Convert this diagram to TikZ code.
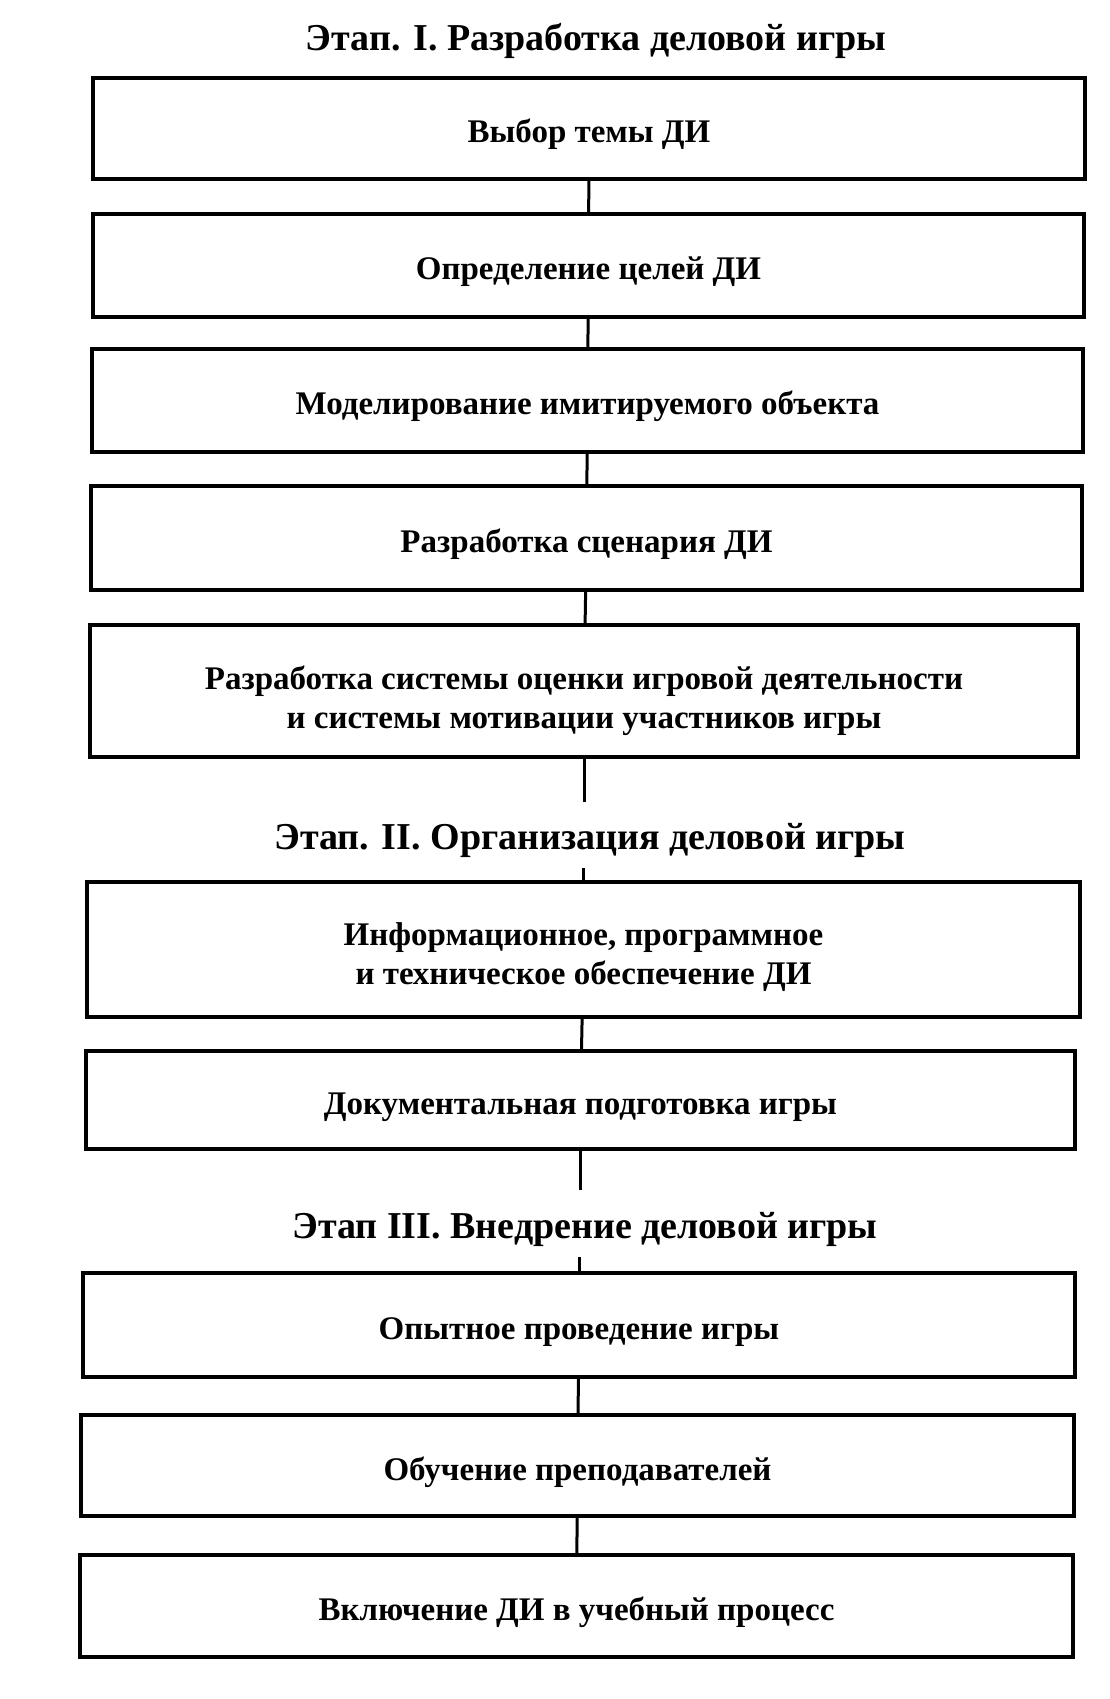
\documentclass[tikz,border=0pt]{standalone}
\usepackage{fontspec}
\setmainfont{Liberation Serif}
\newcommand{\topstrut}[1]{\rule{0pt}{#1}}
\begin{document}
\begin{tikzpicture}[x=1pt,y=-1pt,
  box/.style={draw=black, line width=4pt, fill=white, align=center, inner sep=0pt,
     font=\fontsize{33}{39}\selectfont\bfseries},
  stage/.style={font=\fontsize{38}{42}\selectfont\bfseries, inner sep=0pt},
  conn/.style={draw=black, line width=3pt}]
\useasboundingbox[fill=white] (0,0) rectangle (1110,1699);
\node[stage] (t1) at (596,41) {Этап. I. Разработка деловой игры};
\node[box, minimum width=992pt, minimum height=101pt] (b1) at (589,128.5) {\topstrut{36pt}Выбор темы ДИ};
\node[box, minimum width=991pt, minimum height=103pt] (b2) at (588.5,265.5) {\topstrut{36pt}Определение целей ДИ};
\node[box, minimum width=991pt, minimum height=103pt] (b3) at (587.5,400.5) {\topstrut{36pt}Моделирование имитируемого объекта};
\node[box, minimum width=991pt, minimum height=104pt] (b4) at (586.5,538) {\topstrut{36pt}Разработка сценария ДИ};
\node[box, minimum width=988pt, minimum height=132pt] (b5) at (584,691) {\topstrut{44pt}Разработка системы оценки игровой деятельности\\и системы мотивации участников игры};
\node[stage] (t2) at (590,840) {Этап. II. Организация деловой игры};
\node[box, minimum width=993pt, minimum height=135pt] (b6) at (583.5,949.5) {\topstrut{39pt}Информационное, программное\\и техническое обеспечение ДИ};
\node[box, minimum width=989pt, minimum height=98pt] (b7) at (580.5,1100) {\topstrut{37pt}Документальная подготовка игры};
\node[stage] (t3) at (585,1229) {Этап III. Внедрение деловой игры};
\node[box, minimum width=992pt, minimum height=104pt] (b8) at (579,1325) {\topstrut{36pt}Опытное проведение игры};
\node[box, minimum width=993pt, minimum height=101pt] (b9) at (577.5,1465.5) {\topstrut{37pt}Обучение преподавателей};
\node[box, minimum width=993pt, minimum height=102pt] (b10) at (576.5,1606) {\topstrut{37pt}Включение ДИ в учебный процесс};
\coordinate (c5) at (b5.south |- 0,802);
\coordinate (c6) at (b6.north |- 0,868);
\coordinate (c7) at (b7.south |- 0,1190);
\coordinate (c8) at (b8.north |- 0,1257);
\draw[conn] (b1) -- (b2);
\draw[conn] (b2) -- (b3);
\draw[conn] (b3) -- (b4);
\draw[conn] (b4) -- (b5);
\draw[conn] (b5) -- (c5);
\draw[conn] (c6) -- (b6);
\draw[conn] (b6) -- (b7);
\draw[conn] (b7) -- (c7);
\draw[conn] (c8) -- (b8);
\draw[conn] (b8) -- (b9);
\draw[conn] (b9) -- (b10);
\end{tikzpicture}
\end{document}
